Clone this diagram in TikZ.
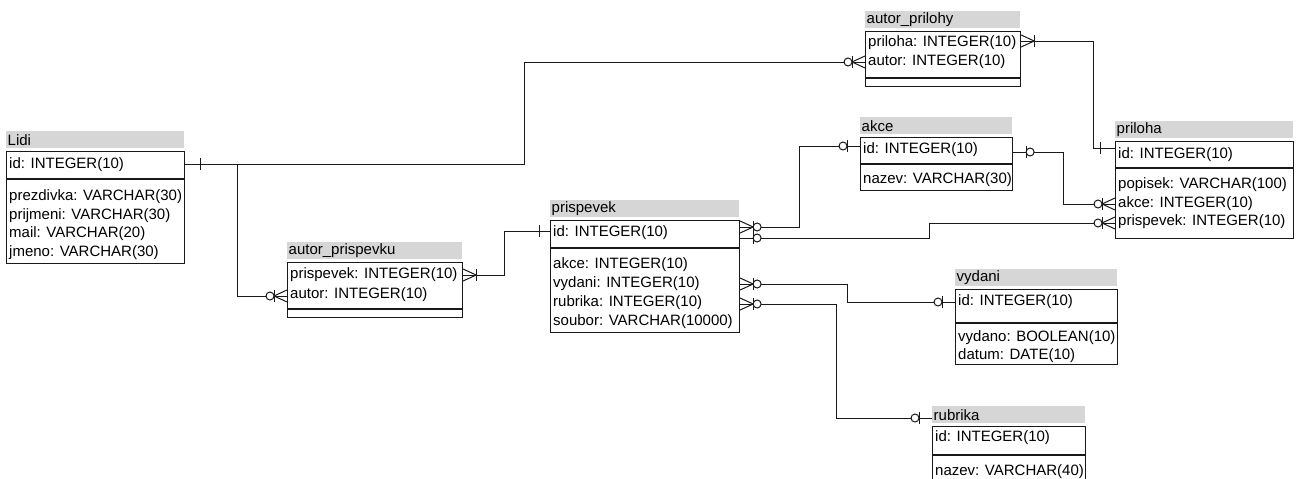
\documentclass[tikz,border=0pt]{standalone}
\usepackage{fontspec}
\setmainfont{Liberation Sans}
\definecolor{hdr}{RGB}{214,214,214}
\definecolor{ln}{RGB}{25,25,25}
\tikzset{
  txt/.style={inner sep=0pt, anchor=west, font=\fontsize{15}{18}\selectfont, text=black},
  tbox/.style={draw=ln, line width=1.1pt, inner sep=0pt, anchor=north west},
  hbox/.style={fill=hdr, inner sep=0pt, anchor=north west},
  conn/.style={draw=ln, line width=1pt},
  mk/.style={draw=ln, line width=1pt},
  pics/mone/.style={code={\draw[mk] (#1,-6)--(#1,6);}},
  pics/mzone/.style={code={\draw[mk] (13,-6)--(13,6); \draw[mk,fill=white] (17,0) circle (4pt);}},
  pics/mzmany/.style={code={\draw[mk] (0,-6)--(13,0)--(0,6); \draw[mk] (13,-6)--(13,6); \draw[mk,fill=white] (17,0) circle (4pt);}},
  pics/monemany/.style={code={\draw[mk] (0,-6)--(13,0)--(0,6); \draw[mk] (13,-6)--(13,6);}},
}
% #1 name #2 title #3 x1 #4 x2 #5 top #6 sep #7 bottom
\newcommand{\ertable}[7]{%
  \node[hbox, minimum width=#4pt-#3pt, minimum height=17pt] (#1-h) at (#3,#5-20) {};
  \node[txt] (#1-t) at ([xshift=1.5pt]#1-h.west) {#2};
  \node[tbox, minimum width=#4pt-#3pt, minimum height=#7pt-#5pt] (#1) at (#3,#5) {};
  \draw[ln, line width=1.1pt] (#1.west |- 0,#6) -- (#1.east |- 0,#6);
}
\begin{document}
\begin{tikzpicture}[x=1pt,y=-1pt]
\useasboundingbox (0,0) rectangle (1298,479);
\fill[white] (0,0) rectangle (1298,479);

% tables
\ertable{lidi}{Lidi}{6}{184}{151}{179}{263}
\node[txt] (lidi-1) at (9,165) {id: INTEGER(10)};
\node[txt] (lidi-2) at (9,197) {prezdivka: VARCHAR(30)};
\node[txt] (lidi-3) at (9,215.5) {prijmeni: VARCHAR(30)};
\node[txt] (lidi-4) at (9,234) {mail: VARCHAR(20)};
\node[txt] (lidi-5) at (9,252.5) {jmeno: VARCHAR(30)};

\ertable{ap}{autor\_prispevku}{287}{462}{262}{309}{317}
\node[txt] (ap-1) at (290,275) {prispevek: INTEGER(10)};
\node[txt] (ap-2) at (290,295) {autor: INTEGER(10)};

\ertable{pr}{prispevek}{550}{739}{220}{248}{332}
\node[txt] (pr-1) at (553,233) {id: INTEGER(10)};
\node[txt] (pr-2) at (553,265) {akce: INTEGER(10)};
\node[txt] (pr-3) at (553,284) {vydani: INTEGER(10)};
\node[txt] (pr-4) at (553,303) {rubrika: INTEGER(10)};
\node[txt] (pr-5) at (553,322) {soubor: VARCHAR(10000)};

\ertable{aph}{autor\_prilohy}{865}{1020}{31}{78}{86}
\node[txt] (aph-1) at (868,43) {priloha: INTEGER(10)};
\node[txt] (aph-2) at (868,62) {autor: INTEGER(10)};

\ertable{akce}{akce}{860}{1012}{137}{164}{190}
\node[txt] (akce-1) at (863,150) {id: INTEGER(10)};
\node[txt] (akce-2) at (863,180) {nazev: VARCHAR(30)};

\ertable{pl}{priloha}{1115}{1293}{141}{168}{238}
\node[txt] (pl-1) at (1118,155) {id: INTEGER(10)};
\node[txt] (pl-2) at (1118,185) {popisek: VARCHAR(100)};
\node[txt] (pl-3) at (1118,204) {akce: INTEGER(10)};
\node[txt] (pl-4) at (1118,222) {prispevek: INTEGER(10)};

\ertable{vy}{vydani}{955}{1117}{289}{323}{364}
\node[txt] (vy-1) at (958,302) {id: INTEGER(10)};
\node[txt] (vy-2) at (958,338) {vydano: BOOLEAN(10)};
\node[txt] (vy-3) at (958,356) {datum: DATE(10)};

\ertable{ru}{rubrika}{932}{1085}{426}{455}{490}
\node[txt] (ru-1) at (935,438) {id: INTEGER(10)};
\node[txt] (ru-2) at (935,472) {nazev: VARCHAR(40)};

% connectors
\coordinate (j1) at (524,164);
\coordinate (j2) at (237,164);
\draw[conn] (lidi.east |- 0,164) -- (j1) |- (aph.west |- 0,62);
\draw[conn] (j2) |- (ap.west |- 0,296);
\pic at (lidi.east |- 0,164) {mone=15};
\pic[xscale=-1] at (aph.west |- 0,62) {mzmany};
\pic[xscale=-1] at (ap.west |- 0,296) {mzmany};

\draw[conn] (ap.east |- 0,275) -- (504,275) -- (504,231) -- (pr.west |- 0,231);
\pic at (ap.east |- 0,275) {monemany};
\pic[xscale=-1] at (pr.west |- 0,231) {mone=11};

\draw[conn] (pr.east |- 0,227) -- (799,227) -- (799,146) -- (akce.west |- 0,146);
\pic at (pr.east |- 0,227) {mzmany};
\pic[xscale=-1] at (akce.west |- 0,146) {mzone};

\draw[conn] (pr.east |- 0,238) -- (929,238) -- (929,223) -- (pl.west |- 0,223);
\pic at (pr.east |- 0,238) {mzone};
\pic[xscale=-1] at (pl.west |- 0,223) {mzmany};

\draw[conn] (akce.east |- 0,152) -- (1063,152) -- (1063,204) -- (pl.west |- 0,204);
\pic at (akce.east |- 0,152) {mzone};
\pic[xscale=-1] at (pl.west |- 0,204) {mzmany};

\draw[conn] (aph.east |- 0,41) -- (1093,41) -- (1093,148) -- (pl.west |- 0,148);
\pic at (aph.east |- 0,41) {monemany};
\pic[xscale=-1] at (pl.west |- 0,148) {mone=15};

\draw[conn] (pr.east |- 0,284) -- (847,284) -- (847,302) -- (vy.west |- 0,302);
\pic at (pr.east |- 0,284) {mzmany};
\pic[xscale=-1] at (vy.west |- 0,302) {mzone};

\draw[conn] (pr.east |- 0,304) -- (836,304) -- (836,418) -- (ru-h.west |- 0,418);
\pic at (pr.east |- 0,304) {mzmany};
\pic[xscale=-1] at (ru-h.west |- 0,418) {mzone};
\end{tikzpicture}
\end{document}
